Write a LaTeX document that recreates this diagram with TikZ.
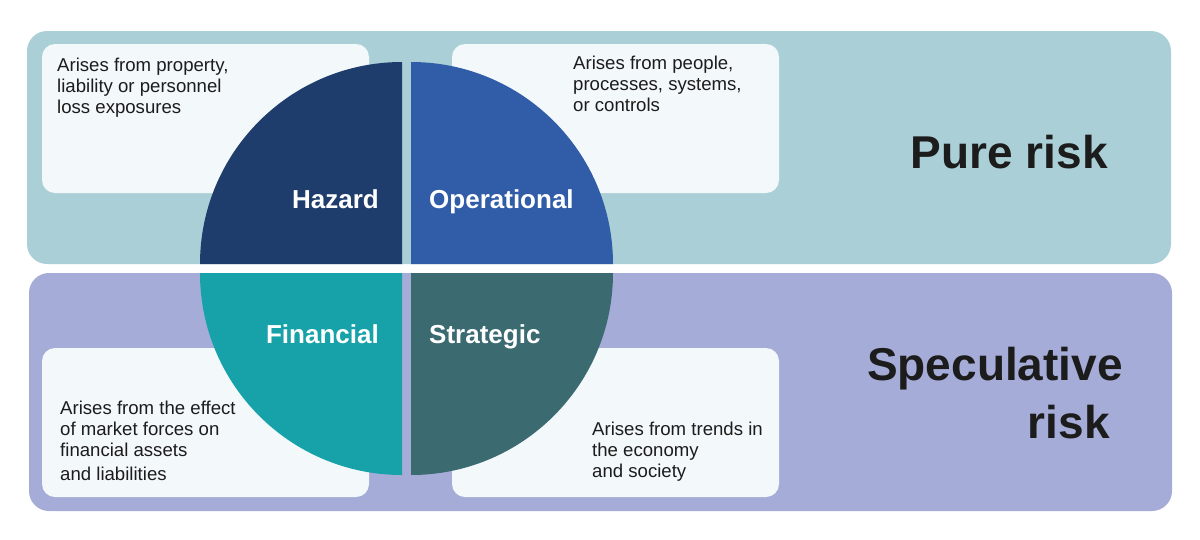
\documentclass[tikz,border=0pt]{standalone}
\usepackage{fontspec}
\setmainfont{Liberation Sans}
\usepackage{xcolor}
\usepackage{tikz}

\definecolor{pureband}{HTML}{AACFD6}
\definecolor{specband}{HTML}{A5ACD7}
\definecolor{boxfill}{HTML}{F3F8FA}
\definecolor{hazardcol}{HTML}{1F3D6C}
\definecolor{operationalcol}{HTML}{305CA8}
\definecolor{financialcol}{HTML}{16A2A8}
\definecolor{strategiccol}{HTML}{3B6A71}
\definecolor{textdark}{HTML}{1C1C1C}

\begin{document}
\begin{tikzpicture}[x=1pt, y=-1pt, inner sep=0pt,
    desc/.style={anchor=north west, align=left, text=textdark,
        font=\fontsize{18.6}{21}\selectfont},
    sector/.style={anchor=base, text=white, font=\fontsize{26}{30}\selectfont\bfseries},
    kind/.style={anchor=north east, align=right, text=textdark,
        font=\fontsize{46}{58}\selectfont\bfseries}]
        \useasboundingbox (0,0) rectangle (1200,539);

        % the two bands
        \fill[pureband, rounded corners=20pt] (27,31) rectangle (1171,264);
        \fill[specband, rounded corners=20pt] (29,273) rectangle (1172,511);

        % the description boxes
        \fill[boxfill, rounded corners=13pt] (42,44) rectangle (369,193);
        \fill[boxfill, rounded corners=13pt] (452,44) rectangle (779,193);
        \fill[boxfill, rounded corners=13pt] (42,348) rectangle (369,497);
        \fill[boxfill, rounded corners=13pt] (452,348) rectangle (779,497);

        % the four quarters
        \fill[hazardcol] (402,264) -- (200,264) arc[start angle=180, end angle=90, radius=202pt] -- cycle;
        \fill[operationalcol] (411,264) -- (411,62) arc[start angle=90, end angle=0, radius=202pt] -- cycle;
        \fill[financialcol] (402,273) -- (200,273) arc[start angle=180, end angle=270, radius=202pt] -- cycle;
        \fill[strategiccol] (411,273) -- (613,273) arc[start angle=0, end angle=-90, radius=202pt] -- cycle;

        \node [sector, anchor=base east] (hazard) at (379,208) {Hazard};
        \node [sector, anchor=base west] (operational) at (429,208) {Operational};
        \node [sector, anchor=base east] (financial) at (379,343) {Financial};
        \node [sector, anchor=base west] (strategic) at (429,343) {Strategic};

        \node [desc] (hazardtext) at (57,58) {Arises from property,\\liability or personnel\\loss exposures};
        \node [desc] (operationaltext) at (573,56) {Arises from people,\\processes, systems,\\or controls};
        \node [desc] (financialtext) at (60,401) {Arises from the effect\\of market forces on\\financial assets\\[3pt]and liabilities};
        \node [desc] (strategictext) at (592,422) {Arises from trends in\\the economy\\and society};

        \node [kind] (pure) at (1108,135) {Pure risk};
        \node [kind] (speculative) at (1123,347) {Speculative\\risk\hspace*{13pt}};
   \end{tikzpicture}
\end{document}
